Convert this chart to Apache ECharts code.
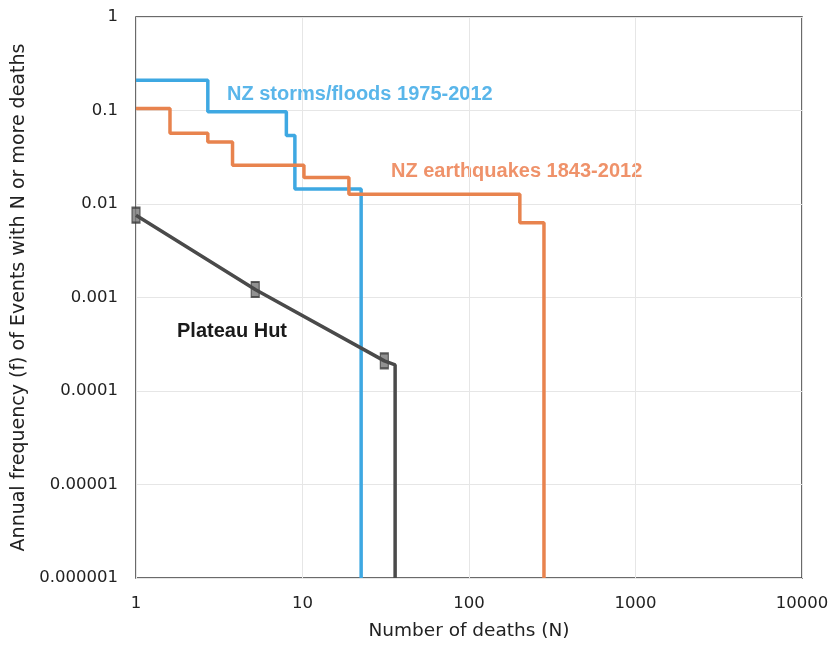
<!DOCTYPE html>
<html>
<head>
<meta charset="utf-8">
<script src="https://cdn.jsdelivr.net/npm/echarts@6/dist/echarts.min.js"></script>
<style>
html,body{margin:0;padding:0;background:#fff;}
#chart{width:835px;height:649px;}
</style>
</head>
<body>
<div id="chart"></div>
<script>
// Tick labels
var xTickLabels = ['1', '10', '100', '1000', '10000'];
var yTickLabels = ['0.000001', '0.00001', '0.0001', '0.001', '0.01', '0.1', '1'];

// NZ storms/floods 1975-2012 (N, f) – step curve
var stormN = [1, 2.7, 8, 9, 22.5];
var stormF = [0.21, 0.097, 0.054, 0.0145, 0.000001];

// NZ earthquakes 1843-2012 (N, f) – step curve
var quakeN = [1, 1.6, 2.7, 3.8, 10.2, 19, 202, 282];
var quakeF = [0.105, 0.057, 0.046, 0.026, 0.0192, 0.0127, 0.0063, 0.000001];

// Plateau Hut
var hutN = [1, 5.2, 31, 36, 36];
var hutF = [0.0076, 0.00122, 0.00021, 0.00019, 0.000001];
var hutMarkN = [1, 5.2, 31];
var hutMarkF = [0.0076, 0.00122, 0.00021];

function pairs(a, b) { return a.map(function (v, i) { return [v, b[i]]; }); }

var chart = echarts.init(document.getElementById('chart'));
var axisFont = 'DejaVu Sans, sans-serif';
var annFont = 'Liberation Sans, Arial, sans-serif';
chart.setOption({
  animation: false,
  backgroundColor: '#fff',
  grid: { left: 136, right: 33, top: 17, bottom: 71, show: true, borderColor: '#3a3a3a', borderWidth: 1.5, containLabel: false },
  xAxis: {
    type: 'log', logBase: 10, min: 1, max: 10000,
    name: 'Number of deaths (N)', nameLocation: 'middle', nameGap: 44,
    nameTextStyle: { fontFamily: axisFont, fontSize: 18.5, color: '#222' },
    axisLine: { show: false }, axisTick: { show: false },
    splitLine: { show: true, lineStyle: { color: '#e6e6e6', width: 1 } },
    axisLabel: {
      margin: 17, fontFamily: axisFont, fontSize: 16.5, color: '#222',
      formatter: function (v) { return xTickLabels[Math.round(Math.log10(v))]; }
    }
  },
  yAxis: {
    type: 'log', logBase: 10, min: 0.000001, max: 1,
    name: 'Annual frequency (f) of Events with N or more deaths', nameLocation: 'middle', nameGap: 104, nameRotate: 90,
    nameTextStyle: { fontFamily: axisFont, fontSize: 19, color: '#222' },
    axisLine: { show: false }, axisTick: { show: false },
    splitLine: { show: true, lineStyle: { color: '#e6e6e6', width: 1 } },
    axisLabel: {
      margin: 18, fontFamily: axisFont, fontSize: 16.5, color: '#222',
      formatter: function (v) { return yTickLabels[Math.round(Math.log10(v)) + 6]; }
    }
  },
  series: [
    { type: 'line', step: 'end', data: pairs(stormN, stormF), showSymbol: false, lineStyle: { color: '#3ea8e2', width: 3.5 }, itemStyle: { color: '#3ea8e2' } },
    { type: 'line', step: 'end', data: pairs(quakeN, quakeF), showSymbol: false, lineStyle: { color: '#e8834e', width: 3.5 }, itemStyle: { color: '#e8834e' } },
    { type: 'line', data: pairs(hutN, hutF), showSymbol: false, lineStyle: { color: '#4a4a4a', width: 3.5 }, itemStyle: { color: '#4a4a4a' } },
    { type: 'scatter', data: pairs(hutMarkN, hutMarkF), symbol: 'rect', symbolSize: [8, 15], itemStyle: { color: '#777', borderColor: '#3a3a3a', borderWidth: 1.5 } }
  ],
  graphic: [
    { type: 'text', left: 227, top: 84, style: { text: 'NZ storms/floods 1975-2012', font: 'bold 20px ' + annFont, fill: '#5ab6ea' } },
    { type: 'text', left: 391, top: 161, style: { text: 'NZ earthquakes 1843-2012', font: 'bold 20px ' + annFont, fill: '#ef926a' } },
    { type: 'text', left: 177, top: 321, style: { text: 'Plateau Hut', font: 'bold 20px ' + annFont, fill: '#1a1a1a' } }
  ]
});
</script>
</body>
</html>
